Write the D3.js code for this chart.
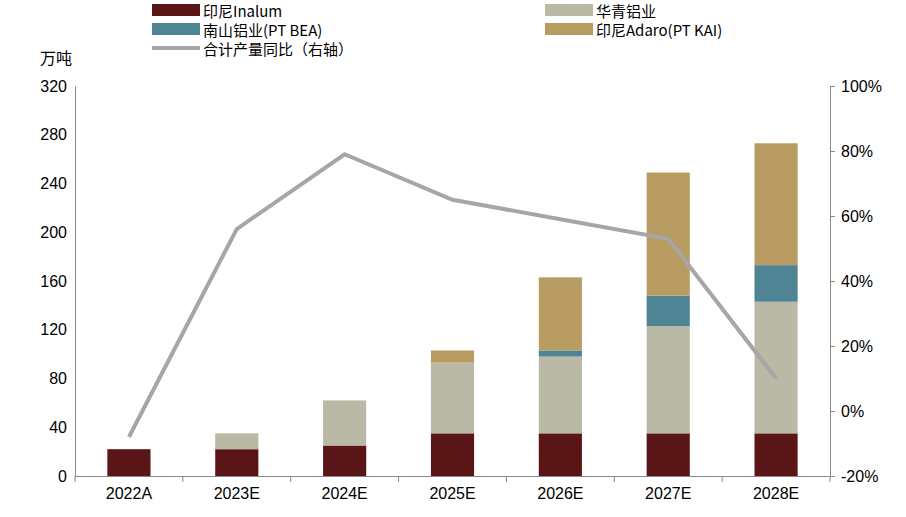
<!DOCTYPE html>
<html><head><meta charset="utf-8">
<script src="https://cdn.jsdelivr.net/npm/d3@7"></script>
<style>body{margin:0;background:#fff}text{font-family:"Noto Sans CJK SC","DejaVu Sans",sans-serif}</style>
</head><body><svg id="c" width="906" height="517"></svg>
<script>
const categories = ['2022A','2023E','2024E','2025E','2026E','2027E','2028E'];
const inalum = [22, 22, 25, 35, 35, 35, 35];
const huaqing = [0, 13, 37, 58, 63, 88, 108];
const bea = [0, 0, 0, 0, 5, 25, 30];
const adaro = [0, 0, 0, 10, 60, 101, 100];
const yoy = [-8, 56, 79, 65, 59, 53, 10];
const leftTicks = [0,40,80,120,160,200,240,280,320];
const rightTicks = [-20,0,20,40,60,80,100];

const series = [
  {name:'印尼Inalum', values:inalum, color:'#5a1616'},
  {name:'华青铝业', values:huaqing, color:'#b9b9a6'},
  {name:'南山铝业(PT BEA)', values:bea, color:'#4e8494'},
  {name:'印尼Adaro(PT KAI)', values:adaro, color:'#b89c62'}
];

const svg = d3.select('#c');
const L = 75, R = 830, T = 86, B = 476;
const x = d3.scaleBand().domain(categories).range([L, R]).paddingInner(0.6).paddingOuter(0.3);
const y = d3.scaleLinear().domain([0,320]).range([B,T]);
const y2 = d3.scaleLinear().domain([-20,100]).range([B,T]);

const stackData = categories.map((c,i)=>{const o={cat:c}; series.forEach(s=>o[s.name]=s.values[i]); return o;});
const stacked = d3.stack().keys(series.map(s=>s.name))(stackData);

svg.append('g').selectAll('g').data(stacked).join('g')
  .attr('fill',(d,i)=>series[i].color)
  .selectAll('rect').data(d=>d).join('rect')
  .attr('x',d=>x(d.data.cat)).attr('width',x.bandwidth())
  .attr('y',d=>y(d[1])).attr('height',d=>y(d[0])-y(d[1]));

const ax = svg.append('g').attr('transform',`translate(0,${B})`)
  .call(d3.axisBottom(x).tickSize(0).tickPadding(12));
d3.range(categories.length+1).forEach(i=>{
  const xx = L + i*(R-L)/categories.length;
  svg.append('line').attr('x1',xx).attr('x2',xx).attr('y1',B).attr('y2',B+6).attr('stroke','#888');
});

const ay = svg.append('g').attr('transform',`translate(${L},0)`)
  .call(d3.axisLeft(y).tickValues(leftTicks).tickSize(0).tickPadding(8));
const ay2 = svg.append('g').attr('transform',`translate(${R},0)`)
  .call(d3.axisRight(y2).tickValues(rightTicks).tickFormat(d=>d+'%').tickSize(5).tickPadding(6));
[ax,ay,ay2].forEach(a=>{a.selectAll('text').attr('font-size',16).attr('fill','#000').style('font-family','"Liberation Sans",Arial,sans-serif');
  a.selectAll('line,path').attr('stroke','#888');});

svg.append('path').datum(yoy)
  .attr('fill','none').attr('stroke','#a6a6a6').attr('stroke-width',4)
  .attr('d',d3.line().x((d,i)=>x(categories[i])+x.bandwidth()/2).y(d=>y2(d)));

svg.append('text').attr('x',40).attr('y',64).attr('font-size',16).text('万吨');

const leg = [
  {s:series[0], x:152, y:10},
  {s:series[1], x:545, y:10},
  {s:series[2], x:152, y:29},
  {s:series[3], x:545, y:29}
];
leg.forEach(l=>{
  svg.append('rect').attr('x',l.x).attr('y',l.y-6).attr('width',48).attr('height',12).attr('fill',l.s.color);
  svg.append('text').attr('x',l.x+51).attr('y',l.y).attr('dominant-baseline','central').attr('font-size',15).text(l.s.name);
});
svg.append('line').attr('x1',152).attr('x2',200).attr('y1',48).attr('y2',48).attr('stroke','#a6a6a6').attr('stroke-width',4);
svg.append('text').attr('x',203).attr('y',48).attr('dominant-baseline','central').attr('font-size',15).text('合计产量同比（右轴）');
</script></body></html>
